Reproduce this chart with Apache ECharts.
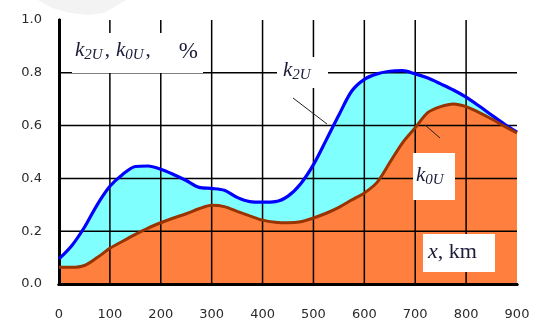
<!DOCTYPE html>
<html>
<head>
<meta charset="utf-8">
<script src="https://cdn.jsdelivr.net/npm/echarts@6/dist/echarts.min.js"></script>
<style>
html,body{margin:0;padding:0;background:#fff;}
#c{width:537px;height:327px;}
</style>
</head>
<body>
<div id="c"></div>
<script>
// distance along the line, km
const xKm = [0,25,50,75,100,125,150,175,200,225,250,275,300,325,350,375,400,425,450,475,500,525,550,575,600,625,650,675,700,725,750,775,800,825,850,875,900];
// k2U, %
const k2U = [0.095,0.145,0.215,0.300,0.370,0.415,0.445,0.447,0.435,0.415,0.392,0.366,0.362,0.355,0.328,0.312,0.310,0.312,0.333,0.380,0.452,0.545,0.640,0.730,0.775,0.796,0.806,0.808,0.796,0.780,0.758,0.735,0.708,0.675,0.640,0.606,0.575];
// k0U, %
const k0U = [0.063,0.063,0.070,0.100,0.135,0.162,0.188,0.212,0.232,0.250,0.266,0.285,0.298,0.293,0.275,0.258,0.242,0.234,0.232,0.236,0.250,0.268,0.290,0.318,0.345,0.385,0.460,0.535,0.592,0.650,0.672,0.682,0.672,0.650,0.625,0.598,0.572];
const xTicks = [0,100,200,300,400,500,600,700,800,900];
const yTicks = [0.0,0.2,0.4,0.6,0.8,1.0];

const pairs = (ys) => xKm.map((x, i) => [x, ys[i]]);

const chart = echarts.init(document.getElementById('c'), null, {renderer: 'canvas'});

const serif = 'Liberation Serif, Times New Roman, serif';
const txtColor = '#1b1b3a';

const axisLabelStyle = {color: '#2a2a2a', fontFamily: 'DejaVu Sans', fontSize: 13};

const kStyle = {fontFamily: serif, fontStyle: 'italic', fontSize: 21, fill: txtColor, verticalAlign: 'top', lineHeight: 28};
const sStyle = {fontFamily: serif, fontStyle: 'italic', fontSize: 15, fill: txtColor, padding: [8,0,0,0], verticalAlign: 'top', lineHeight: 28};

const xMin = xTicks[0], xMax = xTicks[xTicks.length - 1];
const yMin = yTicks[0], yMax = yTicks[yTicks.length - 1];
const gridLineStyle = {stroke: '#000', lineWidth: 1.5};

chart.setOption({
  animation: false,
  backgroundColor: '#fff',
  grid: {left: 59, right: 20, top: 20, bottom: 43, containLabel: false},
  xAxis: [{
    type: 'value', min: xMin, max: xMax, interval: 100, zlevel: 1,
    axisLine: {show: true, onZero: false, lineStyle: {color: '#000', width: 3}},
    axisTick: {show: false},
    axisLabel: Object.assign({margin: 24, showMaxLabel: true, showMinLabel: true}, axisLabelStyle),
    splitLine: {show: false}
  }, {
    type: 'value', position: 'top', min: xMin, max: xMax, zlevel: 1,
    axisLine: {show: true, lineStyle: {color: '#000', width: 3}},
    axisTick: {show: false}, axisLabel: {show: false}, splitLine: {show: false}
  }],
  yAxis: [{
    type: 'value', min: yMin, max: yMax, interval: 0.2, zlevel: 1,
    axisLine: {show: true, onZero: false, lineStyle: {color: '#000', width: 3}},
    axisTick: {show: false},
    axisLabel: Object.assign({margin: 17, formatter: v => v.toFixed(1)}, axisLabelStyle),
    splitLine: {show: false}
  }, {
    type: 'value', position: 'right', min: yMin, max: yMax, zlevel: 1,
    axisLine: {show: true, lineStyle: {color: '#000', width: 3}},
    axisTick: {show: false}, axisLabel: {show: false}, splitLine: {show: false}
  }],
  series: [
    {type: 'line', name: 'k2U area', data: pairs(k2U), smooth: 0.3, symbol: 'none', zlevel: 0,
     lineStyle: {width: 0}, areaStyle: {color: '#80ffff', opacity: 1}},
    {type: 'line', name: 'k0U area', data: pairs(k0U), smooth: 0.3, symbol: 'none', zlevel: 0,
     lineStyle: {width: 0}, areaStyle: {color: '#ff7f3f', opacity: 1}},
    // vertical grid lines over the filled areas
    {type: 'custom', name: 'vgrid', zlevel: 1, silent: true, clip: false,
     data: xTicks.slice(1, -1).map(x => [x, yMin]),
     renderItem: (params, api) => {
       const x = api.value(0);
       const p1 = api.coord([x, yMin]), p2 = api.coord([x, yMax]);
       return {type: 'line', shape: {x1: p1[0], y1: p1[1], x2: p2[0], y2: p2[1]}, style: gridLineStyle};
     }},
    // horizontal grid lines over the filled areas
    {type: 'custom', name: 'hgrid', zlevel: 1, silent: true, clip: false,
     data: yTicks.slice(1, -1).map(y => [xMin, y]),
     renderItem: (params, api) => {
       const y = api.value(1);
       const p1 = api.coord([xMin, y]), p2 = api.coord([xMax, y]);
       return {type: 'line', shape: {x1: p1[0], y1: p1[1], x2: p2[0], y2: p2[1]}, style: gridLineStyle};
     }},
    {type: 'line', name: 'k2U', data: pairs(k2U), smooth: 0.3, symbol: 'none', zlevel: 2,
     lineStyle: {width: 3.2, color: '#0000ff'}},
    {type: 'line', name: 'k0U', data: pairs(k0U), smooth: 0.3, symbol: 'none', zlevel: 2,
     lineStyle: {width: 3, color: '#993300'}}
  ],
  graphic: [
    {type: 'polygon', zlevel: 0, z: -1, silent: true,
     shape: {points: [[38,0],[52,8],[70,13],[88,15],[104,13],[126,0]]},
     style: {fill: '#f3f3f3'}},
    // title box
    {type: 'rect', zlevel: 3, shape: {x: 72, y: 33, width: 131, height: 40}, style: {fill: '#fff'}},
    {type: 'text', zlevel: 3, z: 2, x: 75, y: 40, style: {
      text: '{k|k}{s|2U}{c|,}{k|k}{s|0U}{c|,}{p|%}',
      rich: {
        k: kStyle, s: sStyle,
        c: {fontFamily: serif, fontSize: 21, fill: txtColor, verticalAlign: 'top', lineHeight: 28, padding: [0,6,0,2]},
        p: {fontFamily: serif, fontSize: 23, fill: txtColor, verticalAlign: 'top', lineHeight: 28, padding: [0,0,0,22]}
      }
    }},
    // k2U label
    {type: 'rect', zlevel: 3, shape: {x: 277, y: 57, width: 51, height: 31}, style: {fill: '#fff'}},
    {type: 'text', zlevel: 3, z: 2, x: 283, y: 60, style: {
      text: '{k|k}{s|2U}', rich: {k: kStyle, s: sStyle}
    }},
    {type: 'line', zlevel: 3, shape: {x1: 293, y1: 98, x2: 327, y2: 124}, style: {stroke: '#222', lineWidth: 1}},
    // k0U label
    {type: 'rect', zlevel: 3, shape: {x: 413, y: 153, width: 42, height: 47}, style: {fill: '#fff'}},
    {type: 'text', zlevel: 3, z: 2, x: 416, y: 165, style: {
      text: '{k|k}{s|0U}', rich: {k: kStyle, s: sStyle}
    }},
    {type: 'line', zlevel: 3, shape: {x1: 425, y1: 125, x2: 440, y2: 138}, style: {stroke: '#222', lineWidth: 1}},
    // x, km label
    {type: 'rect', zlevel: 3, shape: {x: 423, y: 234, width: 72, height: 38}, style: {fill: '#fff'}},
    {type: 'text', zlevel: 3, z: 2, x: 428, y: 241, style: {
      text: '{x|x}{c|, km}',
      rich: {
        x: {fontFamily: serif, fontStyle: 'italic', fontSize: 22, fill: txtColor},
        c: {fontFamily: serif, fontSize: 22, fill: txtColor}
      }
    }}
  ]
});
</script>
</body>
</html>
